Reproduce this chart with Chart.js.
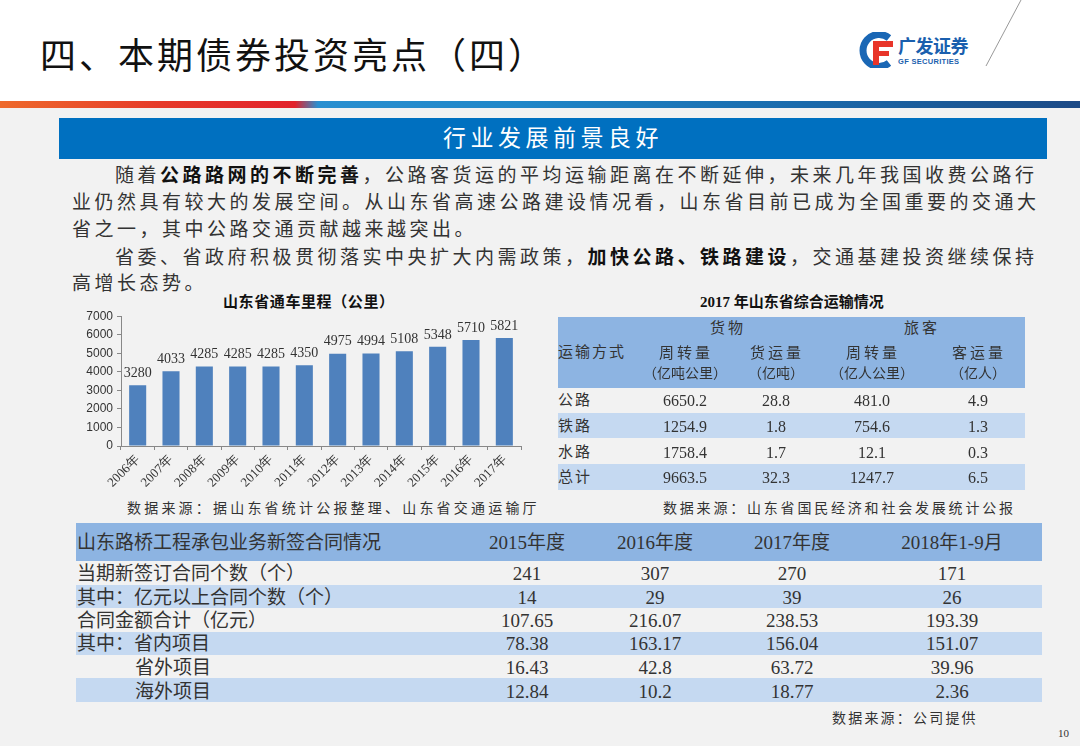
<!DOCTYPE html>
<html>
<head>
<meta charset="utf-8">
<script src="https://cdn.jsdelivr.net/npm/chart.js@4.4.1/dist/chart.umd.min.js"></script>
<style>
  body { margin: 0; width: 1080px; height: 746px; overflow: hidden; position: relative;
         background: #f2f2f2; font-family: "Liberation Serif", "Noto Sans CJK SC", serif; color: #333; }
  .t { position: absolute; white-space: nowrap; line-height: 1; }
  #top { position: absolute; left: 0; top: 0; width: 1080px; height: 101px; background: #fff; }
  #band { position: absolute; left: 0; top: 101px; width: 1080px; height: 7px;
          background: linear-gradient(to right, #ee6a2c 0px, #e63a2a 160px, #e2222c 295px, #2a8fd0 318px, #1f86c8 520px, #1a6aac 800px, #1c4a86 1080px); }
  #banner { position: absolute; left: 59px; top: 118px; width: 988px; height: 41px; background: #0070c0;
            color: #fff; font-size: 23px; letter-spacing: 4.5px; text-align: center; line-height: 41px; }
  .para { position: absolute; left: 72px; font-size: 19px; letter-spacing: 3.5px; white-space: nowrap; line-height: 27px; color: #333; }
  .para b { color: #111; }
  .band { position: absolute; }
</style>
</head>
<body>
<div id="top"></div>
<div id="band"></div>

<div class="t" style="left:40px;top:39px;font-size:36px;color:#111;letter-spacing:3px;">四、本期债券投资亮点（四）</div>

<svg style="position:absolute;left:858px;top:32px" width="40" height="36">
  <path d="M31 6 A16 16 0 1 0 31 31" stroke="#1a67b5" stroke-width="7" fill="none"/>
  <path d="M15 9 H35 V15 H21 V19 H31 V24 H21 V33 H15 Z" fill="#e8352a"/>
</svg>
<div class="t" style="left:898px;top:36px;font-size:18px;font-weight:bold;color:#1a5fae;font-family:'Noto Sans CJK SC';letter-spacing:-0.5px;">广发证券</div>
<div class="t" style="left:898px;top:58px;font-size:7.5px;font-weight:bold;color:#1a5fae;font-family:'Liberation Sans';letter-spacing:0.3px;">GF SECURITIES</div>
<svg style="position:absolute;left:980px;top:0" width="50" height="70">
  <line x1="41" y1="0" x2="6" y2="66" stroke="#999" stroke-width="1"/>
</svg>

<div id="banner">行业发展前景良好</div>

<div class="para" style="left:115px;top:162px;">随着<b>公路路网的不断完善</b>，公路客货运的平均运输距离在不断延伸，未来几年我国收费公路行</div>
<div class="para" style="top:189px;">业仍然具有较大的发展空间。从山东省高速公路建设情况看，山东省目前已成为全国重要的交通大</div>
<div class="para" style="top:216px;">省之一，其中公路交通贡献越来越突出。</div>
<div class="para" style="left:115px;top:244px;">省委、省政府积极贯彻落实中央扩大内需政策，<b>加快公路、铁路建设</b>，交通基建投资继续保持</div>
<div class="para" style="top:270px;">高增长态势。</div>

<div class="t" style="left:223px;top:295px;font-size:15px;font-weight:bold;color:#111;letter-spacing:0.6px;">山东省通车里程（公里）</div>
<canvas id="mileage" width="480" height="195" style="position:absolute;left:60px;top:305px;"></canvas>
<div class="t" style="left:127px;top:502px;font-size:14px;letter-spacing:3.2px;">数据来源：据山东省统计公报整理、山东省交通运输厅</div>

<div class="t" style="left:700px;top:295px;font-size:15px;font-weight:bold;color:#111;">2017 年山东省综合运输情况</div>
<div id="transport"></div>
<div class="t" style="left:663px;top:502px;font-size:14px;letter-spacing:2.8px;">数据来源：山东省国民经济和社会发展统计公报</div>

<div id="contracts"></div>
<div class="t" style="left:832px;top:712px;font-size:14px;letter-spacing:2.2px;">数据来源：公司提供</div>
<div class="t" style="left:1058px;top:728px;font-size:11px;">10</div>

<script>
// bar chart: Shandong road mileage (km)
const years = ['2006年', '2007年', '2008年', '2009年', '2010年', '2011年', '2012年', '2013年', '2014年', '2015年', '2016年', '2017年'];
const mileage = [3280, 4033, 4285, 4285, 4285, 4350, 4975, 4994, 5108, 5348, 5710, 5821];

// 2017 transport table
const modes = ['公路', '铁路', '水路', '总计'];
const freightTurnover = [6650.2, 1254.9, 1758.4, 9663.5];
const freightVolume = [28.8, 1.8, 1.7, 32.3];
const passengerTurnover = [481.0, 754.6, 12.1, 1247.7];
const passengerVolume = [4.9, 1.3, 0.3, 6.5];

// contract table
const periods = ['2015年度', '2016年度', '2017年度', '2018年1-9月'];
const contractRows = ['当期新签订合同个数（个）', '其中：亿元以上合同个数（个）', '合同金额合计（亿元）', '其中：省内项目', '省外项目', '海外项目'];
const contractCount = [241, 307, 270, 171];
const bigContractCount = [14, 29, 39, 26];
const contractAmount = [107.65, 216.07, 238.53, 193.39];
const inProvince = [78.38, 163.17, 156.04, 151.07];
const outProvince = [16.43, 42.8, 63.72, 39.96];
const overseas = [12.84, 10.2, 18.77, 2.36];

function put(parent, text, x, y, opts) {
  const d = document.createElement('div');
  d.className = 't';
  d.textContent = text;
  d.style.fontSize = (opts.size || 16) + 'px';
  d.style.top = (y - (opts.size || 16) / 2) + 'px';
  if (opts.ls) d.style.letterSpacing = opts.ls + 'px';
  if (opts.align === 'center') {
    d.style.left = (x - 150) + 'px';
    d.style.width = '300px';
    d.style.textAlign = 'center';
  } else {
    d.style.left = x + 'px';
  }
  parent.appendChild(d);
}
function rect(parent, x, y, w, h, color) {
  const d = document.createElement('div');
  d.className = 'band';
  Object.assign(d.style, { left: x + 'px', top: y + 'px', width: w + 'px', height: h + 'px', background: color });
  parent.appendChild(d);
}

// right table
const tr = document.getElementById('transport');
rect(tr, 558, 317, 467, 71, '#8db4e2');
rect(tr, 558, 413, 467, 25, '#c5d9f1');
rect(tr, 558, 464, 467, 26, '#c5d9f1');
const tcols = [685, 776, 872, 978];
put(tr, '货物', 728, 328, { size: 15, ls: 3, align: 'center' });
put(tr, '旅客', 922, 328, { size: 15, ls: 3, align: 'center' });
put(tr, '运输方式', 558, 352, { size: 15, ls: 2 });
['周转量', '货运量', '周转量', '客运量'].forEach((s, i) => put(tr, s, tcols[i] + 1, 353, { size: 15, ls: 3, align: 'center' }));
['（亿吨公里）', '（亿吨）', '（亿人公里）', '（亿人）'].forEach((s, i) => put(tr, s, tcols[i], 374, { size: 14, align: 'center' }));
const rowY = [400, 426, 452, 477];
modes.forEach((m, r) => {
  put(tr, m, 558, rowY[r], { size: 15, ls: 2 });
  [freightTurnover, freightVolume, passengerTurnover, passengerVolume].forEach((arr, c) =>
    put(tr, arr[r].toFixed(1), tcols[c], rowY[r] + 1, { size: 16, align: 'center' }));
});

// bottom table
const ct = document.getElementById('contracts');
rect(ct, 76, 523, 966, 38, '#8db4e2');
rect(ct, 76, 585, 966, 23, '#c5d9f1');
rect(ct, 76, 632, 966, 23, '#c5d9f1');
rect(ct, 76, 678, 966, 24, '#c5d9f1');
const ccols = [527, 655, 792, 952];
put(ct, '山东路桥工程承包业务新签合同情况', 77, 542, { size: 19 });
periods.forEach((p, i) => put(ct, p, ccols[i], 542, { size: 19, align: 'center' }));
const cY = [573, 597, 620, 643, 667, 691];
[contractCount, bigContractCount, contractAmount, inProvince, outProvince, overseas].forEach((arr, r) => {
  put(ct, contractRows[r], r >= 4 ? 135 : 77, cY[r], { size: 19 });
  arr.forEach((v, c) => put(ct, String(v), ccols[c], cY[r], { size: 19, align: 'center' }));
});

// value labels above bars
const valueLabels = {
  id: 'valueLabels',
  afterDatasetsDraw(chart) {
    const ctx = chart.ctx;
    const meta = chart.getDatasetMeta(0);
    ctx.save();
    ctx.font = '14px "Liberation Serif"';
    ctx.fillStyle = '#333';
    ctx.textAlign = 'center';
    ctx.textBaseline = 'bottom';
    meta.data.forEach((bar, i) => ctx.fillText(chart.data.datasets[0].data[i], bar.x, bar.y - 5));
    ctx.restore();
  }
};

new Chart(document.getElementById('mileage').getContext('2d'), {
  type: 'bar',
  data: {
    labels: years,
    datasets: [{
      data: mileage,
      backgroundColor: '#4f81bd',
      categoryPercentage: 0.8,
      barPercentage: 0.64
    }]
  },
  options: {
    responsive: false,
    devicePixelRatio: 1,
    animation: false,
    layout: { padding: { top: 7, right: 19, left: 0, bottom: 0 } },
    plugins: { legend: { display: false }, tooltip: { enabled: false } },
    scales: {
      x: {
        afterFit: s => { s.height = 54; },
        grid: { drawOnChartArea: false, tickLength: 4, color: '#888' },
        border: { color: '#888' },
        ticks: { minRotation: 45, maxRotation: 45, color: '#333', font: { family: 'Liberation Serif', size: 13 }, padding: 2 }
      },
      y: {
        min: 0,
        max: 7000,
        afterFit: s => { s.width = 61; },
        grid: { drawOnChartArea: false, tickLength: 4, color: '#888' },
        border: { color: '#888' },
        ticks: { stepSize: 1000, callback: v => String(v), color: '#333', font: { family: 'Liberation Sans', size: 12 }, padding: 4 }
      }
    }
  },
  plugins: [valueLabels]
});
</script>
</body>
</html>
